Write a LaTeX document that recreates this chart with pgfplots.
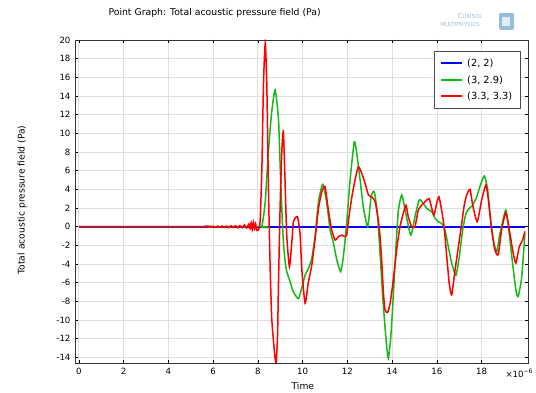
\documentclass[border=0pt]{standalone}
\usepackage{pgfplots}
\pgfplotsset{compat=1.18}
\usepackage{fontspec}
\setmainfont{DejaVu Sans}
\definecolor{cgreen}{RGB}{20,185,20}
\definecolor{cred}{RGB}{255,0,0}
\definecolor{cblue}{RGB}{0,0,255}
\definecolor{logoblue}{RGB}{150,190,215}
\begin{document}
\begin{tikzpicture}
\useasboundingbox (0pt,0pt) rectangle (536pt,393pt);
\begin{axis}[
  at={(75pt,30pt)}, anchor=south west,
  scale only axis, width=453pt, height=323pt,
  xmin=-0.17, xmax=20.07, ymin=-14.6, ymax=20,
  xtick={0,2,...,18}, ytick={-14,-12,...,20},
  tick align=inside, major tick length=3pt,
  tick style={black, line width=0.6pt},
  grid=major, major grid style={gray!25, line width=0.8pt},
  axis line style={black!80, line width=0.8pt},
  /pgf/number format/assume math mode=true,
  ticklabel style={font=\fontsize{8.6}{10}\selectfont},
  xticklabel style={yshift=-1.5pt},
  yticklabel style={xshift=-1pt},
  xlabel={Time}, ylabel={Total acoustic pressure field (Pa)},
  label style={font=\fontsize{9.2}{11}\selectfont},
  xlabel style={at={(axis description cs:0.503,-0.071)}, anchor=center},
  ylabel style={at={(axis description cs:-0.117,0.505)}, anchor=center},
]
\addplot[draw=cblue, line width=1.6pt, mark=none] coordinates {(0,0) (19.93,0)};
\addplot[draw=cgreen, line width=1.5pt, mark=none, smooth, tension=0.35] coordinates {
(0,0) (8.05,0) (8.18,0) (8.33,2.68) (8.47,8.04) (8.62,12.3) (8.77,14.65)
(8.92,11.6) (9.0,6.26) (9.07,1.97) (9.14,-1.6) (9.22,-3.75) (9.29,-4.8)
(9.44,-5.9) (9.59,-7.0) (9.81,-7.7) (9.96,-6.6) (10.11,-5.2) (10.26,-4.46)
(10.41,-3.4) (10.56,-0.9) (10.71,2.68) (10.9,4.54) (11.08,2.5) (11.23,-0.36)
(11.38,-1.79) (11.53,-3.57) (11.7,-4.8) (11.82,-3.2) (11.97,0.36) (12.12,5.0)
(12.31,9.1) (12.42,7.86) (12.57,5.0) (12.71,2.14) (12.91,0) (13.06,3.2)
(13.2,3.75) (13.34,1.43) (13.46,-2.86) (13.58,-7.5) (13.68,-10.7) (13.76,-12.9)
(13.83,-14.1) (13.94,-11.8) (14.05,-7.5) (14.17,-2.14) (14.28,1.79) (14.43,3.4)
(14.58,1.79) (14.83,-0.9) (15.02,1.07) (15.21,2.86) (15.39,2.5) (15.54,1.97)
(15.77,1.6) (15.92,0.9) (16.06,0.54) (16.21,0.36) (16.36,-0.36) (16.51,-2.14)
(16.66,-3.9) (16.85,-5.2) (17.0,-3.2) (17.15,-0.36) (17.3,1.43) (17.45,1.97)
(17.6,2.3) (17.78,3.2) (17.92,4.29) (18.12,5.43) (18.27,3.93) (18.4,0.72)
(18.52,-1.43) (18.67,-2.7) (18.82,-0.71) (19.08,1.8) (19.23,-0.71) (19.38,-3.9)
(19.53,-6.8) (19.63,-7.5) (19.79,-5.36) (19.93,-0.7)
};
\addplot[draw=cred, line width=1.5pt, mark=none, smooth, tension=0.35] coordinates {
(0,0) (5.7,0) (5.8,0.05) (5.9,-0.05) (6.0,0.05) (6.1,-0.08) (6.2,0.06)
(6.3,-0.05) (6.4,0.08) (6.5,-0.08) (6.6,0.05) (6.7,-0.1) (6.8,0.1) (6.9,-0.08)
(7.0,0.1) (7.1,-0.12) (7.2,0.12) (7.3,-0.1) (7.4,0.2) (7.5,-0.15) (7.6,0.3)
(7.65,-0.2) (7.7,0.4) (7.75,-0.3) (7.8,0.5) (7.85,-0.2) (7.9,0.3) (7.95,-0.4)
(8.03,-0.3) (8.10,0.54) (8.18,6.26) (8.25,15.2) (8.33,19.66) (8.40,15.2)
(8.47,4.47) (8.55,-4.46) (8.62,-9.8) (8.70,-12.3) (8.77,-14.1) (8.82,-14.5)
(8.88,-11.6) (8.92,-6.25) (9.0,2.68) (9.07,8.04) (9.14,10.18) (9.22,4.47)
(9.29,-0.9) (9.41,-4.3) (9.52,-1.6) (9.59,0.54) (9.77,1.07) (9.89,-0.9)
(9.96,-4.46) (10.11,-8.2) (10.26,-5.9) (10.41,-4.1) (10.56,-1.25) (10.71,1.97)
(10.86,3.75) (11.0,4.29) (11.15,1.79) (11.3,-0.36) (11.45,-1.43) (11.6,-1.07)
(11.75,-0.9) (11.9,-1.07) (11.97,-0.9) (12.05,0.72) (12.2,3.2) (12.34,5.0)
(12.49,6.43) (12.64,5.72) (12.79,4.65) (12.94,3.4) (13.09,3.2) (13.24,2.68)
(13.38,0.72) (13.46,-1.07) (13.54,-3.9) (13.61,-7.1) (13.68,-8.9) (13.79,-9.2)
(13.91,-8.2) (14.05,-5.7) (14.2,-2.5) (14.35,0) (14.5,1.43) (14.62,2.3)
(14.72,1.07) (14.87,0) (15.02,0) (15.17,1.79) (15.32,2.3) (15.47,2.68)
(15.65,3.0) (15.77,1.97) (15.87,1.25) (15.99,2.5) (16.09,3.2) (16.21,1.79)
(16.32,0) (16.44,-3.2) (16.55,-6.07) (16.66,-7.3) (16.81,-4.64) (16.96,-2.14)
(17.11,0.36) (17.22,2.3) (17.33,3.4) (17.48,4.0) (17.6,2.3) (17.8,0.54)
(18.0,2.86) (18.19,4.47) (18.3,2.86) (18.45,-0.36) (18.59,-2.5) (18.74,-3.0)
(18.89,-0.36) (19.08,1.5) (19.26,-0.71) (19.41,-2.86) (19.53,-3.9) (19.68,-2.14)
(19.83,-1.43) (19.93,-0.5)
};
\end{axis}
% legend
\fill[white] (434pt,285pt) rectangle (520pt,342pt);
\draw[black!70, line width=0.8pt] (434pt,285pt) rectangle (520pt,342pt);
\draw[cblue, line width=1.5pt] (441pt,330pt) -- (462pt,330pt);
\draw[cgreen, line width=1.5pt] (441pt,313pt) -- (462pt,313pt);
\draw[cred, line width=1.5pt] (441pt,297pt) -- (462pt,297pt);
\node[anchor=west, inner sep=0pt, font=\fontsize{9.8}{12}\selectfont] at (467pt,330pt) {(2, 2)};
\node[anchor=west, inner sep=0pt, font=\fontsize{9.8}{12}\selectfont] at (467pt,313pt) {(3, 2.9)};
\node[anchor=west, inner sep=0pt, font=\fontsize{9.8}{12}\selectfont] at (467pt,297pt) {(3.3, 3.3)};
% title etc.
\node[anchor=west, font=\fontsize{9.3}{11}\selectfont] at (105pt,380pt) {Point Graph: Total acoustic pressure field (Pa)};
\node[anchor=west, font=\fontsize{8.6}{10}\selectfont] at (502pt,20pt) {×10\textsuperscript{−6}};
\node[font=\fontsize{7}{7}\selectfont, text=logoblue] at (470pt,377pt) {C\fontsize{5.5}{6}\selectfont OMSOL};
\node[font=\fontsize{5.5}{6}\selectfont, text=logoblue] at (460pt,368pt) {MULTIPHYSICS};
\fill[logoblue, rounded corners=1.5pt] (499pt,363pt) rectangle (514pt,380pt);
\fill[white!70!logoblue] (502pt,367pt) rectangle (510pt,376pt);
\end{tikzpicture}
\end{document}
